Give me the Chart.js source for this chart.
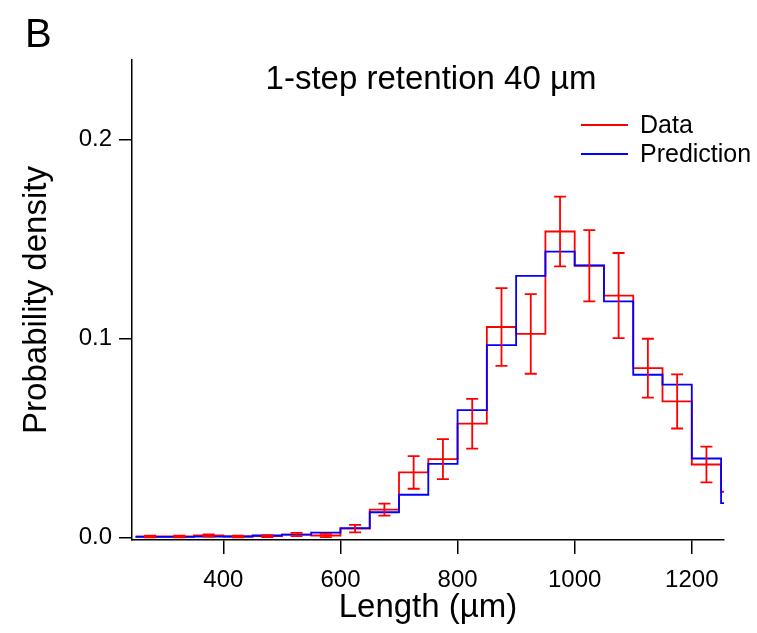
<!DOCTYPE html>
<html>
<head>
<meta charset="utf-8">
<script src="https://cdn.jsdelivr.net/npm/chart.js@4/dist/chart.umd.min.js"></script>
<style>
  body { margin: 0; background: #fff; }
</style>
</head>
<body>
<canvas id="grafico" width="757" height="633"></canvas>
<script>
  // bin edges (µm), one more than the number of bins
  const binEdges = [250, 300, 350, 400, 450, 500, 550, 600, 650, 700, 750, 800, 850, 900, 950, 1000, 1050, 1100, 1150, 1200, 1250, 1300];
  const dataVals = [0.0005, 0.0005, 0.001, 0.0005, 0.0007, 0.0015, 0.001, 0.0045, 0.014, 0.0327, 0.0394, 0.0572, 0.1058, 0.1023, 0.1538, 0.1366, 0.1216, 0.0851, 0.0684, 0.0367, 0.023];
  const dataErr = [0.0004, 0.0004, 0.0006, 0.0004, 0.0005, 0.0008, 0.0008, 0.0019, 0.003, 0.0082, 0.0101, 0.0125, 0.0195, 0.02, 0.0175, 0.0179, 0.0214, 0.0148, 0.0136, 0.009, 0.008];
  const predVals = [0.0003, 0.0003, 0.0004, 0.0005, 0.001, 0.0015, 0.0025, 0.0047, 0.0127, 0.0215, 0.037, 0.064, 0.0967, 0.1315, 0.1437, 0.1368, 0.1187, 0.0818, 0.0768, 0.0397, 0.0173];
  const xTicks = [400, 600, 800, 1000, 1200];
  const yTicks = [0, 0.1, 0.2];

  const fuente = 'Liberation Sans, Arial, sans-serif';

  // point i starts the bin [binEdges[i], binEdges[i+1]]
  function escalones(vals) {
    return binEdges.map((x, i) => ({ x: x, y: vals[Math.min(i, vals.length - 1)] }));
  }

  // error bars at the bin centres
  const barrasError = {
    id: 'barrasError',
    afterDatasetsDraw(chart) {
      const ctx = chart.ctx, xs = chart.scales.x, ys = chart.scales.y, a = chart.chartArea;
      ctx.save();
      ctx.beginPath();
      ctx.rect(a.left, a.top, a.right - a.left, a.bottom - a.top);
      ctx.clip();
      ctx.strokeStyle = '#ff0000';
      ctx.lineWidth = 1.8;
      ctx.beginPath();
      for (let i = 0; i < dataVals.length; i++) {
        const c = xs.getPixelForValue((binEdges[i] + binEdges[i + 1]) / 2);
        const hi = ys.getPixelForValue(dataVals[i] + dataErr[i]);
        const lo = ys.getPixelForValue(dataVals[i] - dataErr[i]);
        ctx.moveTo(c, hi); ctx.lineTo(c, lo);
        ctx.moveTo(c - 6, hi); ctx.lineTo(c + 6, hi);
        ctx.moveTo(c - 6, lo); ctx.lineTo(c + 6, lo);
      }
      ctx.stroke();
      ctx.restore();
    }
  };

  // panel letter, title and legend
  const textos = {
    id: 'textos',
    afterDraw(chart) {
      const ctx = chart.ctx;
      ctx.save();
      ctx.fillStyle = '#000';
      ctx.textBaseline = 'alphabetic';
      ctx.font = '40px ' + fuente;
      ctx.textAlign = 'left';
      ctx.fillText('B', 25, 47);
      ctx.font = '33px ' + fuente;
      ctx.textAlign = 'center';
      ctx.fillText('1-step retention 40 µm', 431, 89);
      ctx.font = '25px ' + fuente;
      ctx.textAlign = 'left';
      ctx.textBaseline = 'middle';
      chart.data.datasets.forEach((ds, i) => {
        const y = 125 + i * 29;
        ctx.strokeStyle = ds.borderColor;
        ctx.lineWidth = 1.8;
        ctx.beginPath();
        ctx.moveTo(581, y); ctx.lineTo(628, y);
        ctx.stroke();
        ctx.fillText(ds.label, 640, y + 1);
      });
      ctx.restore();
    }
  };

  new Chart(document.getElementById('grafico').getContext('2d'), {
    type: 'line',
    data: {
      datasets: [
        { label: 'Data', data: escalones(dataVals), borderColor: '#ff0000', borderWidth: 1.8, stepped: 'before', order: 2 },
        { label: 'Prediction', data: escalones(predVals), borderColor: '#0000ff', borderWidth: 1.8, stepped: 'before', order: 1 }
      ]
    },
    options: {
      responsive: false,
      animation: false,
      layout: { padding: { top: 60, right: 33, left: 0, bottom: 0 } },
      elements: { point: { radius: 0 } },
      plugins: { legend: { display: false }, title: { display: false }, tooltip: { enabled: false } },
      scales: {
        x: {
          type: 'linear', min: 244, max: 1255,
          afterBuildTicks: s => { s.ticks = xTicks.map(v => ({ value: v })); },
          afterFit: s => { s.height = 93; },
          grid: { drawOnChartArea: false, drawTicks: true, tickLength: 14, color: '#000', lineWidth: 1.5 },
          border: { display: true, color: '#000', width: 1.5 },
          ticks: { color: '#000', font: { family: fuente, size: 24 }, padding: 12, maxRotation: 0, callback: v => String(v) },
          title: { display: true, text: 'Length (µm)', color: '#000', font: { family: fuente, size: 33 }, padding: { top: 0, bottom: 5 } }
        },
        y: {
          min: -0.00125, max: 0.24,
          afterBuildTicks: s => { s.ticks = yTicks.map(v => ({ value: v })); },
          afterFit: s => { s.width = 132; },
          grid: { drawOnChartArea: false, drawTicks: true, tickLength: 13, color: '#000', lineWidth: 1.5 },
          border: { display: true, color: '#000', width: 1.5 },
          ticks: { color: '#000', font: { family: fuente, size: 24 }, padding: 7, callback: v => v.toFixed(1) },
          title: { display: true, text: 'Probability density', color: '#000', font: { family: fuente, size: 33 }, padding: { top: 17, bottom: 0 } }
        }
      }
    },
    plugins: [barrasError, textos]
  });
</script>
</body>
</html>
